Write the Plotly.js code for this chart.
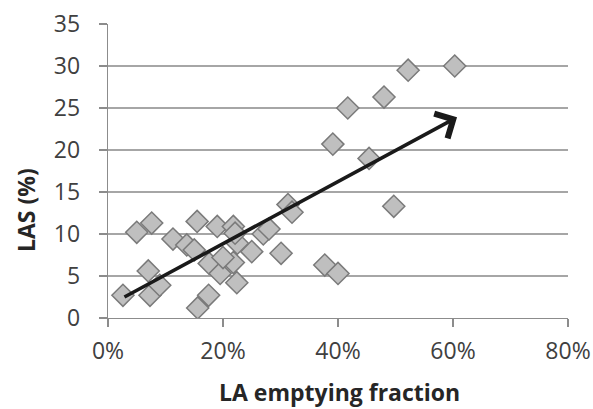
<!DOCTYPE html>
<html>
<head>
<meta charset="utf-8">
<script src="https://cdn.plot.ly/plotly-3.0.1.min.js"></script>
<style>html,body{margin:0;padding:0;background:#fff;}#chart{width:593px;height:409px;}</style>
</head>
<body>
<div id="chart"></div>
<script>
// LA emptying fraction (%) and LAS (%)
const laEmptyingFraction = [2.6, 5.0, 7.6, 7.0, 7.3, 9.0, 11.3, 15.5, 13.7, 15.0, 19.0, 21.8, 17.6, 19.5, 22.4, 21.8, 25.0, 22.5, 20.0, 27.0, 28.0, 30.1, 31.3, 32.0, 15.6, 17.5, 60.3, 52.2, 48.0, 41.7, 39.1, 45.4, 49.7, 37.7, 40.0, 22.1];
const lasPercent         = [2.7, 10.2, 11.3, 5.6, 2.7, 3.9, 9.4, 11.5, 8.7, 8.1, 10.9, 10.9, 6.5, 5.3, 4.2, 6.6, 7.9, 8.9, 7.2, 10.0, 10.6, 7.7, 13.5, 12.6, 1.2, 2.7, 30.0, 29.5, 26.3, 25.0, 20.7, 19.0, 13.3, 6.3, 5.3, 10.1];
// Trend arrow (start and end, in data units)
const arrowStart = {x: 2.6, y: 2.4};
const arrowEnd   = {x: 60.7, y: 23.9};
const xTickVals  = [0, 20, 40, 60, 80];
const xTickText  = ['0%', '20%', '40%', '60%', '80%'];
const yTickVals  = [0, 5, 10, 15, 20, 25, 30, 35];
const xTitle = 'LA emptying fraction';
const yTitle = 'LAS (%)';

const W = 593, H = 409;
const M = {l: 108, r: 25, t: 24, b: 91};
const plotH = H - M.t - M.b;
const plotW = W - M.l - M.r;
const pyPaper = px => (H - M.b - px) / plotH;
const pxPaper = px => (px - M.l) / plotW;

const FONT = '"Open Sans", sans-serif';
const trace = {
  type: 'scatter', mode: 'markers',
  x: laEmptyingFraction, y: lasPercent,
  marker: {symbol: 'diamond', size: 17, color: '#bfbfbf', line: {color: '#7a7a7a', width: 1.5}},
  hoverinfo: 'skip'
};

const layout = {
  width: W, height: H,
  margin: M,
  paper_bgcolor: '#fff', plot_bgcolor: '#fff',
  showlegend: false,
  font: {family: FONT, size: 23, color: '#404040'},
  xaxis: {
    range: [0, 80], tickvals: xTickVals, ticktext: xTickText,
    showgrid: false, zeroline: false,
    showline: true, linecolor: '#8c8c8c', linewidth: 1.3,
    ticks: 'outside', ticklen: 8, tickcolor: '#8c8c8c', tickwidth: 1.3,
    ticklabelstandoff: 4,
    tickfont: {family: FONT, size: 23, color: '#404040'},
    fixedrange: true
  },
  yaxis: {
    range: [0, 35], tickvals: yTickVals,
    showgrid: true, gridcolor: '#a6a6a6', gridwidth: 1.3, zeroline: false,
    showline: true, linecolor: '#8c8c8c', linewidth: 1.3,
    ticks: 'outside', ticklen: 8, tickcolor: '#8c8c8c', tickwidth: 1.3,
    ticklabelstandoff: 14,
    tickfont: {family: FONT, size: 23, color: '#404040'},
    fixedrange: true
  },
  annotations: [
    {
      x: arrowEnd.x, y: arrowEnd.y, ax: arrowStart.x, ay: arrowStart.y,
      xref: 'x', yref: 'y', axref: 'x', ayref: 'y',
      showarrow: true, arrowhead: 4, arrowsize: 1.5, arrowwidth: 3.6, arrowcolor: '#1a1a1a', text: ''
    },
    {
      text: xTitle, xref: 'paper', yref: 'paper', x: pxPaper(339), y: pyPaper(392),
      xanchor: 'center', yanchor: 'middle', showarrow: false,
      font: {family: FONT, size: 23, color: '#262626', weight: 'bold'}
    },
    {
      text: yTitle, xref: 'paper', yref: 'paper', x: pxPaper(26), y: pyPaper(210),
      xanchor: 'center', yanchor: 'middle', showarrow: false, textangle: -90,
      font: {family: FONT, size: 23, color: '#262626', weight: 'bold'}
    }
  ]
};

Plotly.newPlot('chart', [trace], layout, {staticPlot: true, displayModeBar: false});
</script>
</body>
</html>
